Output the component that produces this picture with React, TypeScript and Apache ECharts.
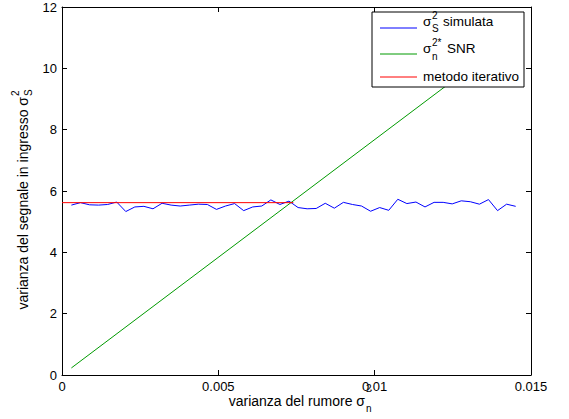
import React, { useEffect, useRef } from "react";
import * as echarts from "echarts";

const xNoise = [
  0.0003, 0.00059, 0.00088, 0.00117, 0.00146, 0.00175, 0.00204, 0.00233, 0.00262, 0.00291,
  0.0032, 0.00349, 0.00378, 0.00407, 0.00436, 0.00465, 0.00494, 0.00523, 0.00552, 0.00581,
  0.0061, 0.00639, 0.00668, 0.00697, 0.00726, 0.00755, 0.00784, 0.00813, 0.00842, 0.00871,
  0.009, 0.00929, 0.00958, 0.00987, 0.01016, 0.01045, 0.01074, 0.01103, 0.01132, 0.01161,
  0.0119, 0.01219, 0.01248, 0.01277, 0.01306, 0.01335, 0.01364, 0.01393, 0.01422, 0.01451,
];
const sigmaSimulated = [
  5.54, 5.62, 5.55, 5.54, 5.56, 5.64, 5.33, 5.48, 5.5, 5.42,
  5.6, 5.54, 5.51, 5.54, 5.57, 5.56, 5.4, 5.51, 5.59, 5.36,
  5.48, 5.51, 5.71, 5.56, 5.67, 5.46, 5.42, 5.43, 5.6, 5.44,
  5.63, 5.56, 5.51, 5.34, 5.46, 5.37, 5.73, 5.59, 5.64, 5.48,
  5.63, 5.63, 5.58, 5.68, 5.65, 5.57, 5.72, 5.36, 5.57, 5.5,
];
const snrX = [0.0003, 0.0145];
const snrY = [0.23, 11.13];
const iterX = [0, 0.0074];
const iterY = [5.62, 5.62];

const FONT = "'Liberation Sans', Arial, Helvetica, sans-serif";

export default function App() {
  const ref = useRef<HTMLDivElement>(null);
  useEffect(() => {
    const chart = echarts.init(ref.current!, null, { renderer: "svg" });
    const axisCommon = {
      type: "value" as const,
      axisLine: { show: true, onZero: false, lineStyle: { color: "#000", width: 1 } },
      axisTick: { show: true, inside: true, length: 5, lineStyle: { color: "#000", width: 1 } },
      splitLine: { show: false },
    };
    const lbl = { color: "#000", fontSize: 13, fontFamily: FONT, margin: 5 };
    const txt = (text: string, x: number, y: number, size = 13, align = "left") => ({
      type: "text",
      x,
      y,
      z: 101,
      style: { text, fontSize: size, fontFamily: FONT, fill: "#000", align, verticalAlign: "middle" },
    });
    const option = {
      animation: false,
      backgroundColor: "#fff",
      grid: { left: 62, top: 7, width: 469, height: 368, containLabel: false },
      xAxis: [
        {
          ...axisCommon,
          min: 0,
          max: 0.015,
          interval: 0.005,
          position: "bottom",
          axisLabel: { ...lbl, formatter: (v: number) => String(+v.toFixed(4)) },
        },
        {
          ...axisCommon,
          min: 0,
          max: 0.015,
          interval: 0.005,
          position: "top",
          axisLabel: { show: false },
        },
      ],
      yAxis: [
        {
          ...axisCommon,
          min: 0,
          max: 12,
          interval: 2,
          position: "left",
          axisLabel: { ...lbl },
        },
        {
          ...axisCommon,
          min: 0,
          max: 12,
          interval: 2,
          position: "right",
          axisLabel: { show: false },
        },
      ],
      series: [
        {
          name: "simulata",
          type: "line",
          showSymbol: false,
          lineStyle: { color: "#0000ff", width: 1 },
          data: xNoise.map((x, i) => [x, sigmaSimulated[i]]),
        },
        {
          name: "SNR",
          type: "line",
          showSymbol: false,
          lineStyle: { color: "#009a00", width: 1 },
          data: snrX.map((x, i) => [x, snrY[i]]),
        },
        {
          name: "metodo iterativo",
          type: "line",
          showSymbol: false,
          lineStyle: { color: "#ff0000", width: 1 },
          data: iterX.map((x, i) => [x, iterY[i]]),
        },
      ],
      graphic: [
        {
          type: "rect",
          z: 100,
          shape: { x: 372, y: 12, width: 152, height: 75 },
          style: { fill: "#fff", stroke: "#000", lineWidth: 1 },
        },
        { type: "line", z: 101, shape: { x1: 380, y1: 28, x2: 417, y2: 28 }, style: { stroke: "#0000ff", lineWidth: 1 } },
        { type: "line", z: 101, shape: { x1: 380, y1: 54, x2: 417, y2: 54 }, style: { stroke: "#009a00", lineWidth: 1 } },
        { type: "line", z: 101, shape: { x1: 380, y1: 77, x2: 417, y2: 77 }, style: { stroke: "#ff0000", lineWidth: 1 } },
        txt("σ", 423, 21, 13.5),
        txt("2", 432, 15, 10),
        txt("S", 432, 28, 10),
        txt("simulata", 443, 21, 13.5),
        txt("σ", 423, 48, 13.5),
        txt("2*", 432, 42, 10),
        txt("n", 432, 56, 10),
        txt("SNR", 447, 48, 13.5),
        txt("metodo iterativo", 423, 76, 13.5),
        txt("varianza del rumore σ", 365, 401, 14, "right"),
        txt("2", 366, 388, 10),
        txt("n", 366, 408, 10),
        {
          type: "group",
          x: 23,
          y: 224,
          rotation: Math.PI / 2,
          children: [
            txt("varianza del segnale in ingresso σ", 127, 0, 14, "right"),
            txt("2", 128, -8, 10),
            txt("S", 128, 5, 10),
          ],
        },
      ],
    };
    chart.setOption(option as any);
    return () => chart.dispose();
  }, []);
  return (
    <div
      ref={ref}
      style={{ position: "fixed", left: 0, top: 0, width: 569, height: 419, background: "#fff" }}
    />
  );
}
